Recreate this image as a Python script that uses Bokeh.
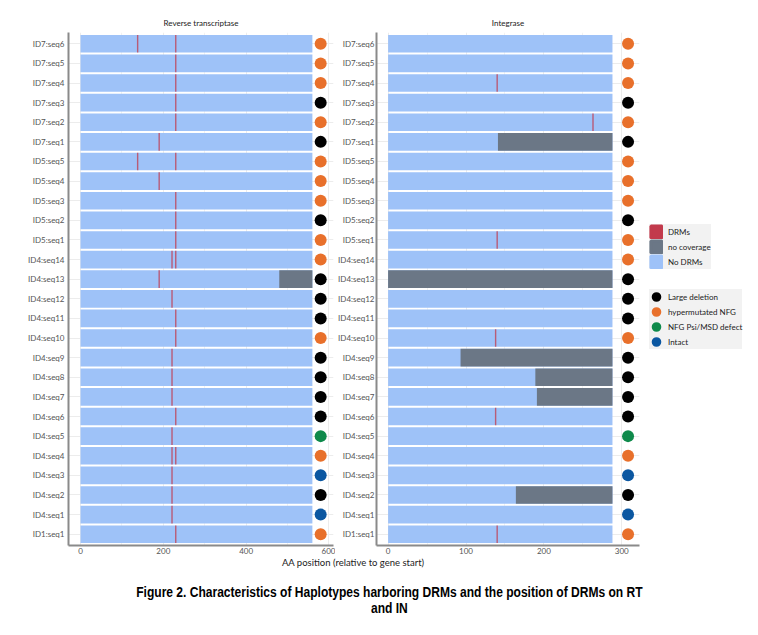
from bokeh.plotting import figure
from bokeh.models import FactorRange, Range1d, FixedTicker, Legend, LegendItem, Div
from bokeh.layouts import row, column
from bokeh.embed import file_html
from bokeh.resources import INLINE

# ---------------- data ----------------
seq_ids = ["ID7:seq6", "ID7:seq5", "ID7:seq4", "ID7:seq3", "ID7:seq2", "ID7:seq1",
           "ID5:seq5", "ID5:seq4", "ID5:seq3", "ID5:seq2", "ID5:seq1",
           "ID4:seq14", "ID4:seq13", "ID4:seq12", "ID4:seq11", "ID4:seq10", "ID4:seq9",
           "ID4:seq8", "ID4:seq7", "ID4:seq6", "ID4:seq5", "ID4:seq4", "ID4:seq3",
           "ID4:seq2", "ID4:seq1", "ID1:seq1"]
seq_category = ["hypermutated NFG", "hypermutated NFG", "hypermutated NFG", "Large deletion",
                "hypermutated NFG", "Large deletion",
                "hypermutated NFG", "hypermutated NFG", "hypermutated NFG", "Large deletion",
                "hypermutated NFG",
                "hypermutated NFG", "Large deletion", "Large deletion", "Large deletion",
                "hypermutated NFG", "Large deletion", "Large deletion", "Large deletion",
                "Large deletion", "NFG Psi/MSD defect", "hypermutated NFG", "Intact",
                "Large deletion", "Intact", "hypermutated NFG"]
category_names = ["Large deletion", "hypermutated NFG", "NFG Psi/MSD defect", "Intact"]
category_colors = ["#000000", "#e8702b", "#0f8a4b", "#0b57a1"]

rt_length = 560
in_length = 288

rt_drm_seq = ["ID7:seq6", "ID7:seq6", "ID7:seq5", "ID7:seq4", "ID7:seq3", "ID7:seq2", "ID7:seq1",
              "ID5:seq5", "ID5:seq5", "ID5:seq4", "ID5:seq3", "ID5:seq2", "ID5:seq1",
              "ID4:seq14", "ID4:seq14", "ID4:seq13", "ID4:seq12", "ID4:seq11", "ID4:seq10",
              "ID4:seq9", "ID4:seq8", "ID4:seq7", "ID4:seq6", "ID4:seq5", "ID4:seq4",
              "ID4:seq4", "ID4:seq3", "ID4:seq2", "ID4:seq1", "ID1:seq1"]
rt_drm_pos = [138, 230, 230, 230, 230, 230, 190,
              138, 230, 190, 230, 230, 230,
              221, 230, 190, 221, 230, 230,
              221, 221, 221, 230, 221, 221,
              230, 221, 221, 221, 230]
rt_nocov_seq = ["ID4:seq13"]
rt_nocov_start = [480]
rt_nocov_end = [560]

in_drm_seq = ["ID7:seq4", "ID7:seq2", "ID5:seq1", "ID4:seq10", "ID4:seq6", "ID1:seq1"]
in_drm_pos = [140, 263, 140, 138, 138, 140]
in_nocov_seq = ["ID7:seq1", "ID4:seq13", "ID4:seq9", "ID4:seq8", "ID4:seq7", "ID4:seq2"]
in_nocov_start = [141, 0, 93, 189, 191, 164]
in_nocov_end = [288, 288, 288, 288, 288, 288]

rt_ticks = [0, 200, 400, 600]
rt_minor = [100, 300, 500]
in_ticks = [0, 100, 200, 300]
in_minor = [50, 150, 250]

# ---------------- styles ----------------
BLUE = "#9ec2f8"
GRAY = "#6b7786"
RED = "#c23a4c"
FONT = "Lato"
FRAME_H = 513
TOP = 32
BOTTOM = 12
cat_color = dict(zip(category_names, category_colors))
dot_colors = [cat_color[c] for c in seq_category]
factors = list(reversed(seq_ids))


def panel(title, xr, length, drm_seq, drm_pos, nc_seq, nc_start, nc_end, ticks, minor,
          frame_w, border_left, border_right, dot_x, ystandoff):
    p = figure(frame_width=frame_w, frame_height=FRAME_H, x_range=xr,
               y_range=FactorRange(factors=factors, range_padding=0.075,
                                   range_padding_units="absolute"),
               output_backend="svg", toolbar_location=None,
               min_border_left=border_left, min_border_right=border_right,
               min_border_top=TOP, min_border_bottom=BOTTOM, title=title)
    p.title.align = "center"
    p.title.text_font = FONT
    p.title.text_font_size = "8px"
    p.title.text_font_style = "normal"
    p.title.text_color = "#222222"
    p.outline_line_color = None
    p.hbar(y=seq_ids, left=0, right=length, height=0.9, fill_color=BLUE, line_color=None)
    p.hbar(y=nc_seq, left=nc_start, right=nc_end, height=0.9, fill_color=GRAY, line_color=None)
    p.rect(x=drm_pos, y=drm_seq, width=1.4, width_units="screen", height=0.9,
           fill_color=RED, fill_alpha=0.75, line_color=None)
    p.scatter(x=[dot_x] * len(seq_ids), y=seq_ids, size=12, fill_color=dot_colors,
              line_color=None)
    p.xaxis.ticker = FixedTicker(ticks=ticks, minor_ticks=minor)
    p.xgrid.grid_line_color = "#ececec"
    p.xgrid.minor_grid_line_color = "#f2f2f2"
    p.ygrid.grid_line_color = "#ececec"
    for ax in (p.xaxis[0], p.yaxis[0]):
        ax.axis_line_color = "#8a8a8a"
        ax.axis_line_width = 2
        ax.major_tick_line_color = None
        ax.minor_tick_line_color = None
        ax.major_tick_out = 0
        ax.major_tick_in = 0
        ax.minor_tick_out = 0
        ax.minor_tick_in = 0
        ax.major_label_text_font = FONT
        ax.major_label_text_font_size = "8px"
        ax.major_label_text_color = "#555555"
    p.xaxis.major_label_standoff = 2
    p.yaxis.major_label_standoff = ystandoff
    return p


p1 = panel("Reverse transcriptase", Range1d(-29, 611), rt_length, rt_drm_seq, rt_drm_pos,
           rt_nocov_seq, rt_nocov_start, rt_nocov_end, rt_ticks, rt_minor,
           265, 68, 2, rt_length + 20, 4)
p2 = panel("Integrase", Range1d(-14.9, 322.7), in_length, in_drm_seq, in_drm_pos,
           in_nocov_seq, in_nocov_start, in_nocov_end, in_ticks, in_minor,
           263, 30, 5, in_length + 20, 2)

# legend panel
H3 = TOP + FRAME_H + 13
p3 = figure(width=108, height=H3, x_range=(0, 1), y_range=(0, 1),
            output_backend="svg", toolbar_location=None,
            x_axis_location=None, y_axis_location=None,
            min_border_left=0, min_border_right=0, min_border_top=0, min_border_bottom=0)
p3.outline_line_color = None
p3.grid.visible = False
OFF = [-5]
r_drm = p3.rect(x=OFF, y=OFF, width=1, height=1, fill_color=RED, line_color=RED, line_width=3)
r_nc = p3.rect(x=OFF, y=OFF, width=1, height=1, fill_color=GRAY, line_color=GRAY, line_width=3)
r_no = p3.rect(x=OFF, y=OFF, width=1, height=1, fill_color=BLUE, line_color=BLUE, line_width=3)
cat_r = [p3.scatter(x=OFF, y=OFF, size=11, fill_color=c, line_color=c, line_width=4)
         for c in category_colors]


def style_legend(lg):
    lg.spacing = 0
    lg.padding = 5
    lg.margin = 0
    lg.glyph_width = 14
    lg.glyph_height = 15
    lg.label_height = 10
    lg.label_standoff = 5
    lg.label_text_font = FONT
    lg.label_text_font_size = "8px"
    lg.label_text_color = "#222222"
    lg.background_fill_color = "#f2f2f2"
    lg.background_fill_alpha = 1
    lg.border_line_color = None


lg1 = Legend(items=[LegendItem(label="DRMs", renderers=[r_drm]),
                    LegendItem(label="no coverage", renderers=[r_nc]),
                    LegendItem(label="No DRMs", renderers=[r_no])],
             location=(5, H3 - 281))
lg2 = Legend(items=[LegendItem(label=n, renderers=[r]) for n, r in zip(category_names, cat_r)],
             location=(5, H3 - 361))
style_legend(lg1)
style_legend(lg2)
p3.add_layout(lg1)
p3.add_layout(lg2)

axis_title = Div(text='<div style="position:relative;top:-4px;width:706px;font-family:Lato;'
                      'font-size:9.5px;line-height:10px;'
                      'color:#222;text-align:center;white-space:nowrap;">'
                      'AA position (relative to gene start)</div>',
                 width=706, height=10, margin=(0, 0, 0, 0))
cap_style = ("width:738px;margin-left:20px;text-align:center;font-family:'Liberation Sans',"
             "Arial,sans-serif;font-weight:bold;font-size:14px;line-height:16px;color:#000;")
span_style = "display:inline-block;transform:scaleX(0.86);transform-origin:center;white-space:nowrap;"
caption = Div(text='<div style="' + cap_style + '">'
                   '<div><span style="' + span_style + '">Figure 2. Characteristics of Haplotypes '
                   'harboring DRMs and the position of DRMs on RT</span></div>'
                   '<div><span style="' + span_style + '">and IN</span></div></div>',
              width=758, height=40, margin=(16, 0, 0, 0))

layout = column(row(p1, p2, p3), axis_title, caption)
open("out.html", "w").write(file_html(layout, INLINE))
